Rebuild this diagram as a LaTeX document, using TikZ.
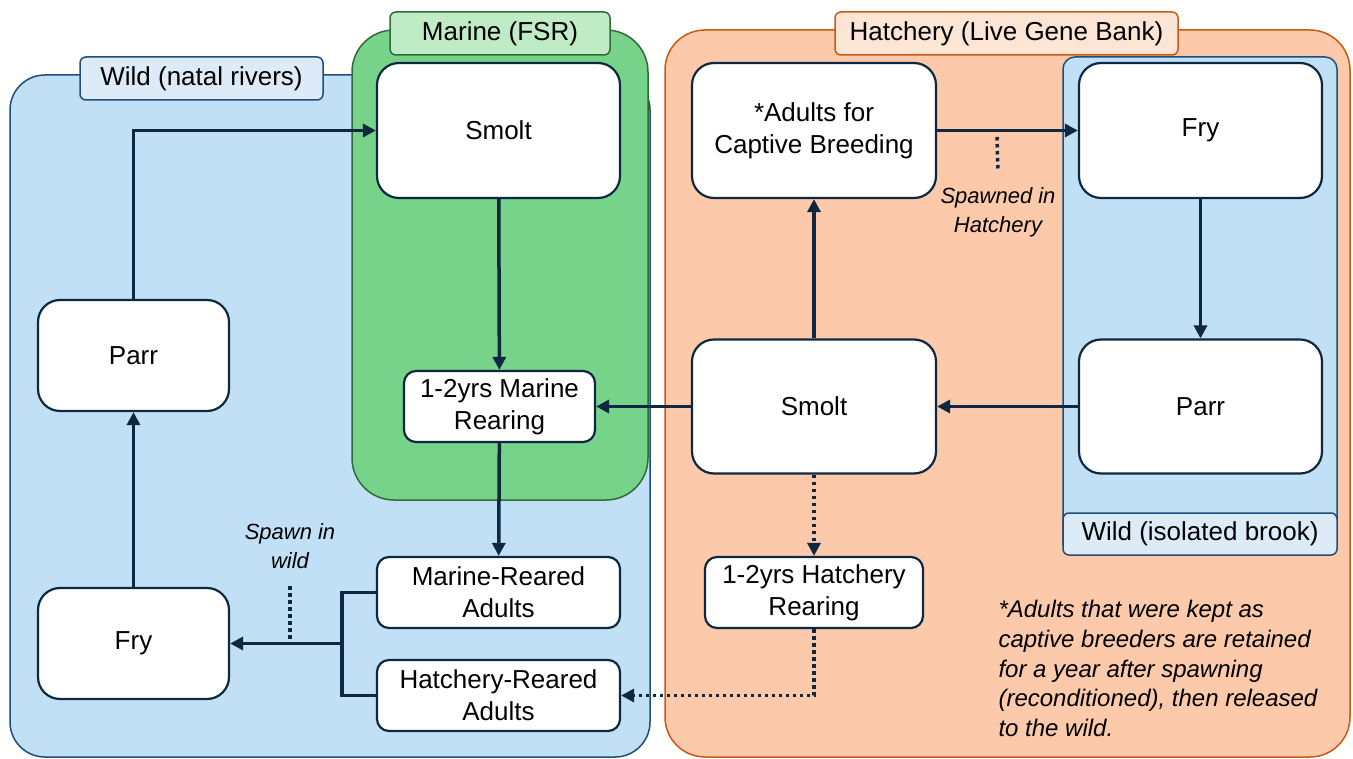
\documentclass[tikz,border=0pt]{standalone}
\usepackage{fontspec}
\setmainfont{Liberation Sans}
\usepackage{tikz}
\usetikzlibrary{arrows.meta,positioning,calc}
\definecolor{navyLine}{HTML}{0E2841}
\definecolor{wildFill}{HTML}{C1E0F6}
\definecolor{wildTag}{HTML}{DDEBF9}
\definecolor{wildLine}{HTML}{1F4E79}
\definecolor{marineFill}{HTML}{77D28A}
\definecolor{marineTag}{HTML}{BFEBC5}
\definecolor{marineLine}{HTML}{2F6B35}
\definecolor{hatchFill}{HTML}{FCC9AA}
\definecolor{hatchTag}{HTML}{FDE5D6}
\definecolor{hatchLine}{HTML}{C95A16}

\begin{document}
\begin{tikzpicture}[x=1pt,y=-1pt,>={Triangle[length=13pt,width=13pt]},
  every node/.style={font=\fontsize{26}{32}\selectfont},
  stage/.style={draw=navyLine,line width=2.2pt,fill=white,rounded corners=22pt,align=center,inner sep=0pt},
  rearing/.style={stage,rounded corners=12pt,minimum height=71pt},
  tag/.style={line width=1.5pt,rounded corners=6pt,minimum height=43pt,inner sep=0pt},
  note/.style={font=\fontsize{22}{29}\selectfont\itshape,align=center},
  flow/.style={->,line width=3.5pt,draw=navyLine},
  link/.style={line width=3.5pt,draw=navyLine},
  spawned/.style={->,line width=3.5pt,draw=navyLine,dash pattern=on 3.5pt off 3.5pt},
  tick/.style={line width=3.5pt,draw=navyLine,dash pattern=on 3.5pt off 3.5pt}]
  \useasboundingbox (0,0) rectangle (1353,759);

  % regions
  \draw[draw=wildLine,fill=wildFill,line width=1.5pt,rounded corners=35pt] (10,75) rectangle (650,757);
  \node[tag,draw=wildLine,fill=wildTag,minimum width=243pt] (wildTitle) at (201.5,78.5) {Wild (natal rivers)};
  \draw[draw=marineLine,fill=marineFill,line width=1.5pt,rounded corners=42pt] (352,30) rectangle (648,500);
  \node[tag,draw=marineLine,fill=marineTag,minimum width=220pt] (marineTitle) at (500,33.5) {Marine (FSR)};
  \draw[draw=hatchLine,fill=hatchFill,line width=1.5pt,rounded corners=40pt] (665,30) rectangle (1350,757);
  \node[tag,draw=hatchLine,fill=hatchTag,minimum width=343pt] (hatchTitle) at (1006.5,33.5) {Hatchery (Live Gene Bank)};
  \draw[draw=wildLine,fill=wildFill,line width=1.5pt,rounded corners=12pt] (1063,57) rectangle (1337,555);
  \node[tag,draw=wildLine,fill=wildTag,minimum width=274pt,minimum height=42pt] (brookTitle) at (1200,534) {Wild (isolated brook)};

  % stages
  \node[stage,minimum width=243pt,minimum height=135pt] (smoltSea) at (498.5,130.5) {Smolt};
  \node[stage,minimum width=191pt,minimum height=111pt] (parrWild) at (133.5,355.5) {Parr};
  \node[stage,minimum width=191pt,minimum height=111pt] (fryWild) at (133.5,643.5) {Fry};
  \node[rearing,minimum width=191pt] (seaRearing) at (499.5,406.5) {1-2yrs Marine\\Rearing};
  \node[rearing,minimum width=243pt] (seaAdults) at (498.5,592.5) {Marine-Reared\\Adults};
  \node[rearing,minimum width=243pt] (hatchAdults) at (498.5,695.5) {Hatchery-Reared\\Adults};
  \node[stage,minimum width=244pt,minimum height=135pt] (breeders) at (814,130.5) {*Adults for\\Captive Breeding};
  \node[stage,minimum width=243pt,minimum height=135pt] (fryBrook) at (1200.5,130.5) {Fry};
  \node[stage,minimum width=243pt,minimum height=134pt] (parrBrook) at (1200.5,406.5) {Parr};
  \node[stage,minimum width=244pt,minimum height=134pt] (smoltHatch) at (814,406.5) {Smolt};
  \node[rearing,minimum width=218pt] (hatchRearing) at (814,592.5) {1-2yrs Hatchery\\Rearing};

  % notes
  \node[note] (spawnWild) at (290,546) {Spawn in\\wild};
  \node[note] (spawnHatch) at (998,212) {Spawned in\\Hatchery};
  \node[font=\fontsize{24}{29.8}\selectfont\itshape,align=left,anchor=west] (footnote) at (995,668.5)
    {*Adults that were kept as\\captive breeders are retained\\for a year after spawning\\(reconditioned), then released\\to the wild.};

  % wild cycle
  \draw[flow] (parrWild.north) |- (smoltSea.west);
  \draw[flow] (smoltSea) -- (seaRearing);
  \draw[flow] (seaRearing) -- (seaAdults);
  \draw[flow] (fryWild) -- (parrWild);
  \coordinate (merge) at (342,643.5);
  \draw[link] (seaAdults.west) -| (merge) |- (hatchAdults.west);
  \draw[flow] (merge) -- (fryWild.east);
  \coordinate (wildTick) at (290,643.5);
  \draw[tick] ($(spawnWild.south)+(0,14)$) -- (wildTick);

  % hatchery cycle
  \draw[flow] (breeders) -- (fryBrook);
  \draw[flow] (fryBrook) -- (parrBrook);
  \draw[flow] (parrBrook) -- (smoltHatch);
  \draw[flow] (smoltHatch) -- (breeders);
  \draw[flow] (smoltHatch) -- (seaRearing);
  \draw[spawned] (smoltHatch) -- (hatchRearing);
  \draw[spawned] (hatchRearing.south) |- (hatchAdults.east);
  \coordinate (hatchTick) at (997,137);
  \draw[tick] (hatchTick) -- ($(spawnHatch.north)+(0,-12)$);
\end{tikzpicture}
\end{document}
